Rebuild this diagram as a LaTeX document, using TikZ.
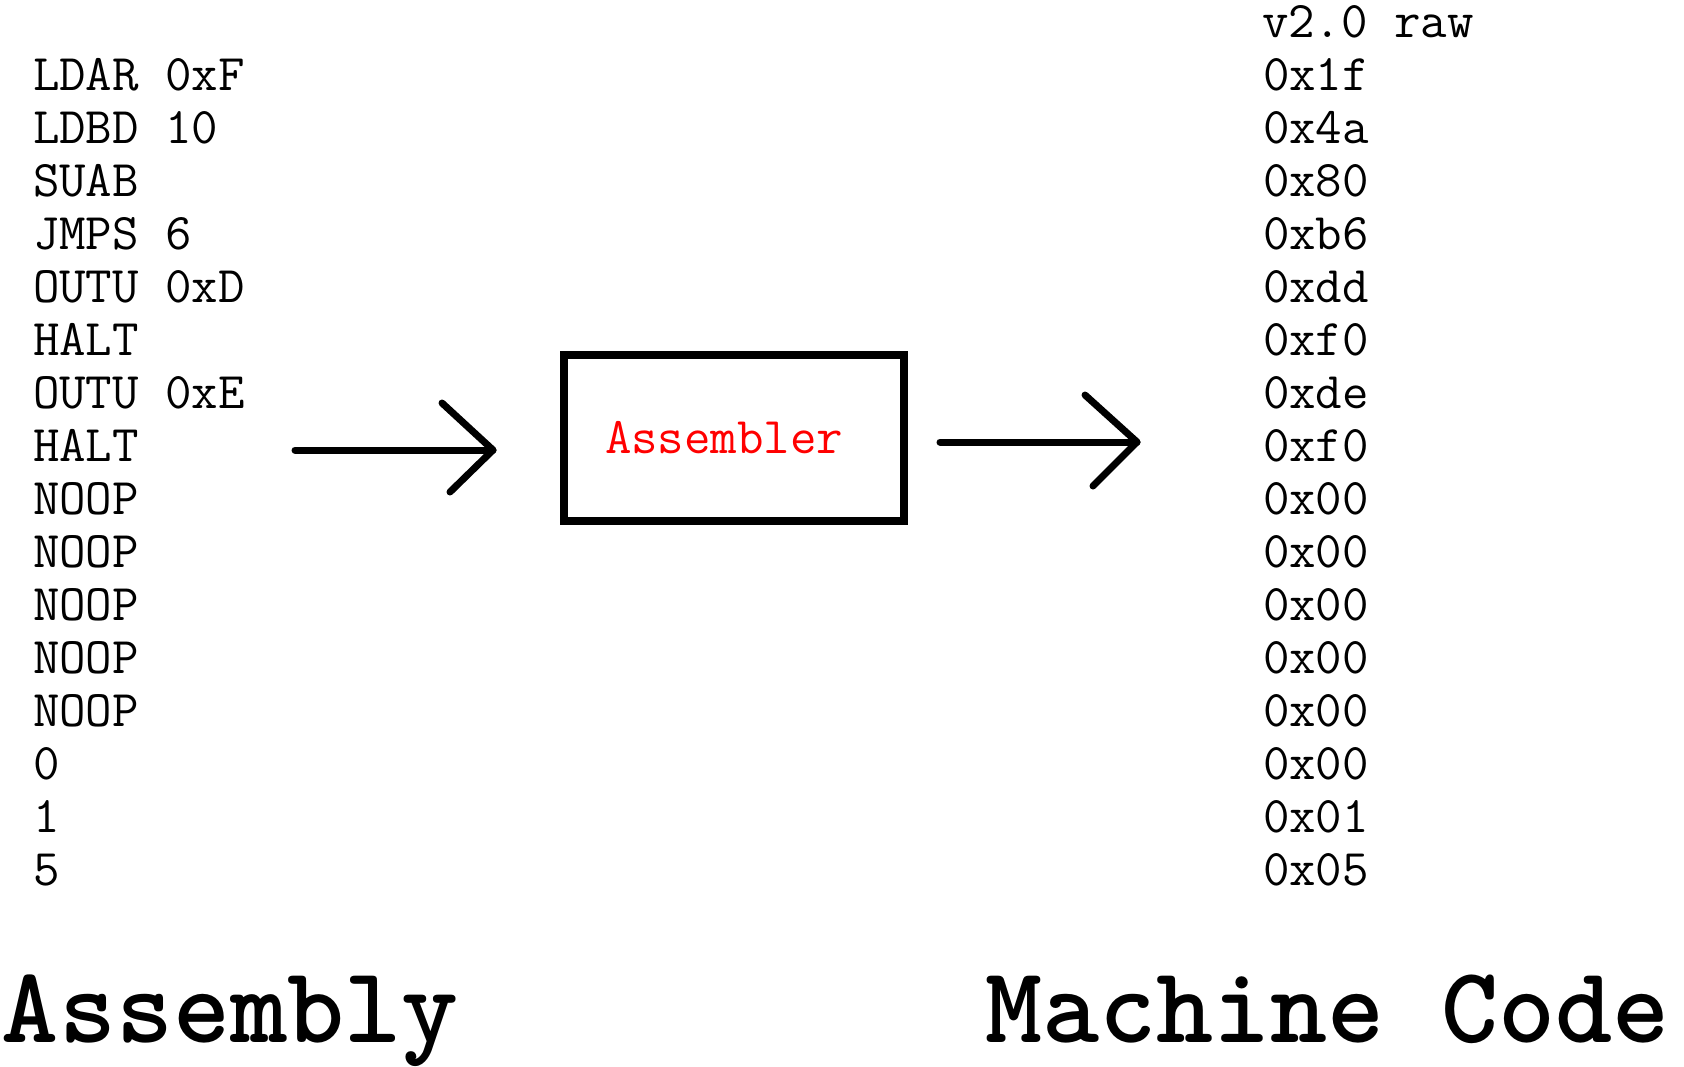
\documentclass[tikz,border=0pt]{standalone}
\usepackage{fontspec}
\begin{document}
\begin{tikzpicture}[x=0.5pt,y=-0.5pt,
  codetext/.style={anchor=base west,inner sep=0pt,outer sep=0pt,font=\ttfamily\fontsize{25.7}{30}\selectfont},
  titletext/.style={anchor=base west,inner sep=0pt,outer sep=0pt,font=\ttfamily\bfseries\fontsize{54.3}{60}\selectfont},
  asmbox/.style={draw=black,line width=4pt,minimum width=170pt,minimum height=82.75pt,inner sep=0pt,outer sep=0pt},
  arrowline/.style={draw=black,line width=3.5pt,line cap=round,line join=round}]
\useasboundingbox (0,0) rectangle (1684,1066);
% left column (assembly)
\foreach \t [count=\i from 0] in {LDAR 0xF,LDBD 10,SUAB,JMPS 6,OUTU 0xD,HALT,OUTU 0xE,HALT,NOOP,NOOP,NOOP,NOOP,NOOP,0,1,5}
  \node[codetext] (asm\i) at (33,{90+53*\i}) {\t};
% right column (machine code)
\node[codetext] (hdr) at (1262,37) {v2.0 raw};
\foreach \t [count=\i from 0] in {0x1f,0x4a,0x80,0xb6,0xdd,0xf0,0xde,0xf0,0x00,0x00,0x00,0x00,0x00,0x00,0x01,0x05}
  \node[codetext] (mc\i) at (1263,{90+53*\i}) {\t};
% assembler box
\node[asmbox] (box) at (734,437.75) {};
\node[codetext,text={rgb,255:red,255;green,0;blue,0}] (boxlabel) at (605,453) {Assembler};
% arrows
\coordinate (a1s) at (295,450);
\coordinate (a1t) at (493,450);
\coordinate (a1u) at (442,403);
\coordinate (a1l) at (450,492);
\draw[arrowline] (a1s) -- (a1t);
\draw[arrowline] (a1u) -- (a1t) -- (a1l);
\coordinate (a2s) at (940,442);
\coordinate (a2t) at (1137,442);
\coordinate (a2u) at (1085,395);
\coordinate (a2l) at (1093,486);
\draw[arrowline] (a2s) -- (a2t);
\draw[arrowline] (a2u) -- (a2t) -- (a2l);
% titles
\node[titletext] (t1) at (2,1042) {Assembly};
\node[titletext] (t2) at (985,1042) {Machine Code};
\end{tikzpicture}
\end{document}
